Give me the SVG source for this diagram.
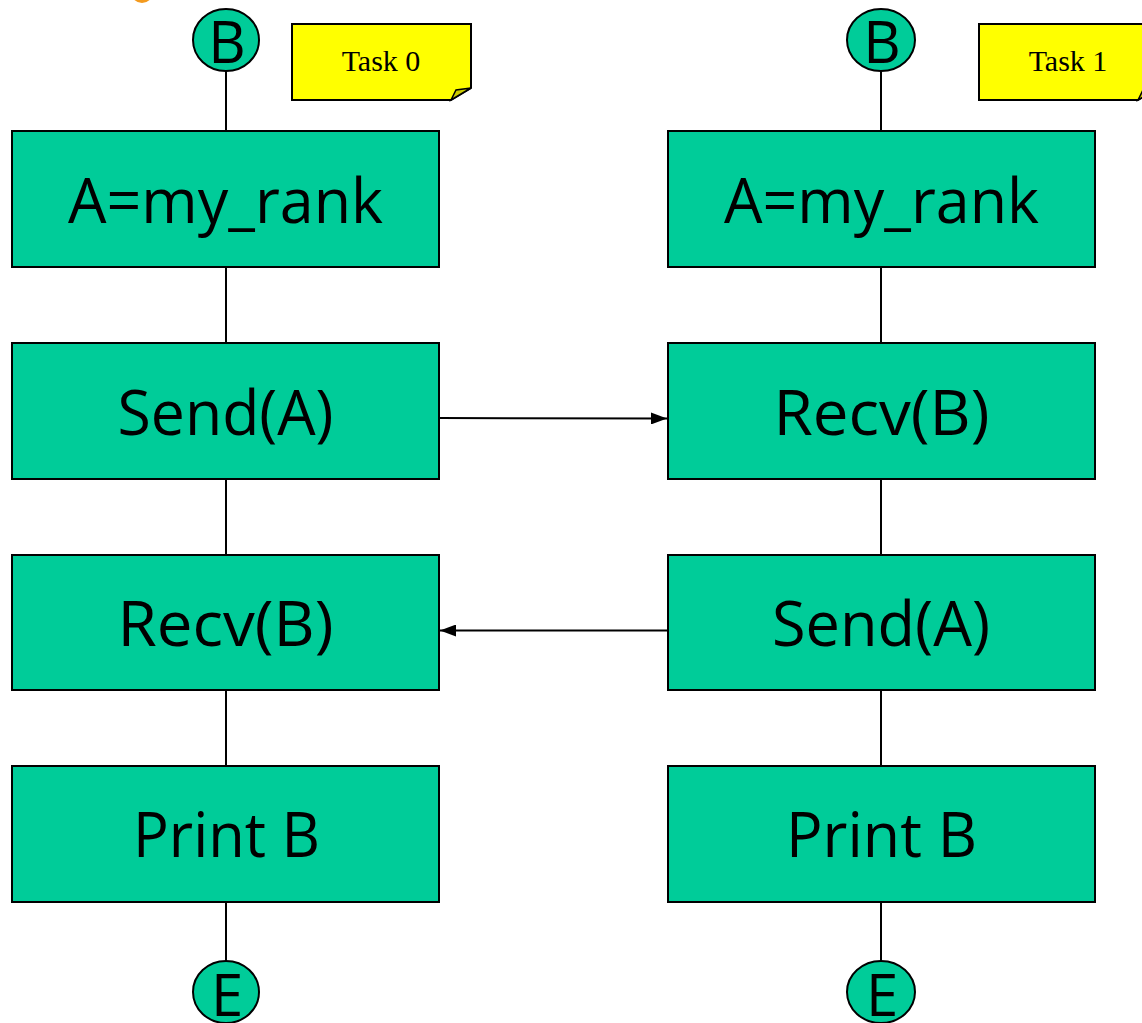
<svg xmlns="http://www.w3.org/2000/svg" width="1142" height="1023" viewBox="0 0 1142 1023">
<defs>
<style>
.box{fill:#00CC99;stroke:#000;stroke-width:2}
.term{fill:#00CC99;stroke:#000;stroke-width:2}
.lbl{font-family:"Open Sans","DejaVu Sans",sans-serif;font-size:63px;fill:#000;text-anchor:middle}
.tl{font-family:"Open Sans","DejaVu Sans",sans-serif;font-size:58px;fill:#000;text-anchor:middle}
.note{fill:#FFFF00;stroke:#000;stroke-width:2}
.fold{fill:#CCCC00;stroke:#000;stroke-width:1.5}
.nt{font-family:"Liberation Serif",serif;font-size:30px;fill:#000;text-anchor:middle}
.ln{stroke:#000;stroke-width:2;fill:none}
</style>
<marker id="ah" viewBox="0 0 10 10" refX="10" refY="5" markerWidth="8" markerHeight="8" markerUnits="userSpaceOnUse" orient="auto">
<path d="M0,0 L10,5 L0,10 Z" fill="#000"/>
</marker>
<marker id="ah2" viewBox="0 0 16 12" refX="16" refY="6" markerWidth="16" markerHeight="12" markerUnits="userSpaceOnUse" orient="auto">
<path d="M0,0 L16,6 L0,12 Z" fill="#000"/>
</marker>
</defs>
<rect width="1142" height="1023" fill="#fff"/>
<circle cx="142" cy="-8" r="11" fill="#F39A1E"/>
<g id="connectors">
<line class="ln" x1="226" y1="71" x2="226" y2="131"/>
<line class="ln" x1="226" y1="267" x2="226" y2="343"/>
<line class="ln" x1="226" y1="479" x2="226" y2="555"/>
<line class="ln" x1="226" y1="690" x2="226" y2="766"/>
<line class="ln" x1="226" y1="902" x2="226" y2="961"/>
<line class="ln" x1="881" y1="71" x2="881" y2="131"/>
<line class="ln" x1="881" y1="267" x2="881" y2="343"/>
<line class="ln" x1="881" y1="479" x2="881" y2="555"/>
<line class="ln" x1="881" y1="690" x2="881" y2="766"/>
<line class="ln" x1="881" y1="902" x2="881" y2="961"/>
<line class="ln" x1="440" y1="418" x2="667" y2="418.5" marker-end="url(#ah2)"/>
<line class="ln" x1="667" y1="630.5" x2="440" y2="630.5" marker-end="url(#ah2)"/>
</g>
<g id="begin0"><ellipse class="term" cx="226" cy="40" rx="33" ry="31"/><text class="tl" x="227" y="63">B</text></g>
<g id="begin1"><ellipse class="term" cx="881" cy="40" rx="34" ry="31"/><text class="tl" x="882" y="63">B</text></g>
<g id="note0"><path class="note" d="M292,24 H471 V88 L451,100 H292 Z"/><path class="fold" d="M451,100 L456,90 L471,88 Z"/><text class="nt" x="381" y="71">Task 0</text></g>
<g id="note1"><path class="note" d="M979,24 H1158 V88 L1138,100 H979 Z"/><path class="fold" d="M1138,100 L1143,90 L1158,88 Z"/><text class="nt" x="1068" y="71">Task 1</text></g>
<g id="t0_assign"><rect class="box" x="12" y="131" width="427" height="136"/><text class="lbl" x="225.5" y="223" textLength="315" lengthAdjust="spacingAndGlyphs">A=my_rank</text></g>
<g id="t0_send"><rect class="box" x="12" y="343" width="427" height="136"/><text class="lbl" x="225.5" y="435" textLength="216" lengthAdjust="spacingAndGlyphs">Send(A)</text></g>
<g id="t0_recv"><rect class="box" x="12" y="555" width="427" height="135"/><text class="lbl" x="225.5" y="646" textLength="216" lengthAdjust="spacingAndGlyphs">Recv(B)</text></g>
<g id="t0_print"><rect class="box" x="12" y="766" width="427" height="136"/><text class="lbl" x="226.5" y="857" textLength="187" lengthAdjust="spacingAndGlyphs">Print B</text></g>
<g id="t1_assign"><rect class="box" x="668" y="131" width="427" height="136"/><text class="lbl" x="881.5" y="223" textLength="315" lengthAdjust="spacingAndGlyphs">A=my_rank</text></g>
<g id="t1_recv"><rect class="box" x="668" y="343" width="427" height="136"/><text class="lbl" x="881.5" y="435" textLength="216" lengthAdjust="spacingAndGlyphs">Recv(B)</text></g>
<g id="t1_send"><rect class="box" x="668" y="555" width="427" height="135"/><text class="lbl" x="881" y="646" textLength="218" lengthAdjust="spacingAndGlyphs">Send(A)</text></g>
<g id="t1_print"><rect class="box" x="668" y="766" width="427" height="136"/><text class="lbl" x="881.5" y="857" textLength="191" lengthAdjust="spacingAndGlyphs">Print B</text></g>
<g id="end0"><ellipse class="term" cx="226" cy="992" rx="33" ry="31"/><text class="tl" x="227" y="1016">E</text></g>
<g id="end1"><ellipse class="term" cx="881" cy="992" rx="34" ry="31"/><text class="tl" x="882" y="1016">E</text></g>
</svg>
